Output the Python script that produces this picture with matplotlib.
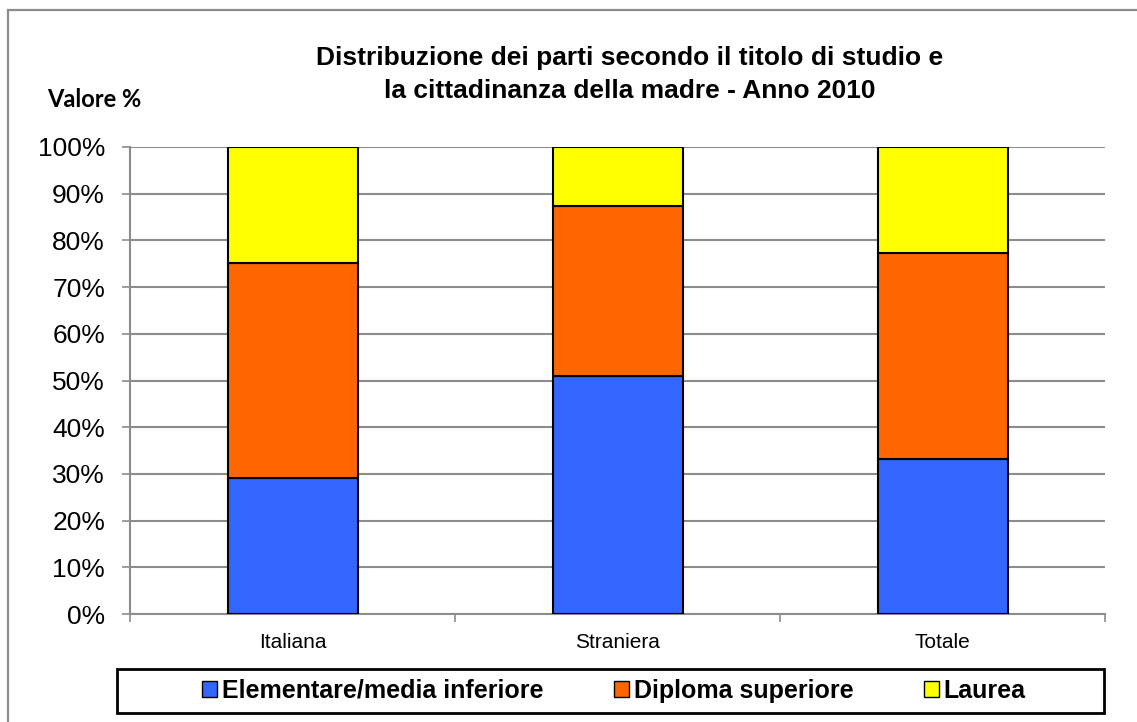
import matplotlib.pyplot as plt
from matplotlib.patches import Rectangle, Patch
import numpy as np

categories = ['Italiana', 'Straniera', 'Totale']
series_names = ['Elementare/media inferiore', 'Diploma superiore', 'Laurea']
elementare = [29.1, 51.0, 33.1]
diploma = [46.0, 36.3, 44.2]
laurea = [24.9, 12.7, 22.7]
colors = ['#3366FF', '#FF6600', '#FFFF00']

W, H = 1137, 722
fig = plt.figure(figsize=(W / 100, H / 100), dpi=100)
plt.rcParams['font.family'] = ['Liberation Sans', 'DejaVu Sans']

# outer chart frame (runs off the right and bottom edge)
fig.patches.append(Rectangle((8 / W, -0.02), 1.1, 1 - 10 / H + 0.02, transform=fig.transFigure,
                             fill=False, edgecolor='#8c8c8c', linewidth=1.6))

ax = fig.add_axes([130 / W, 1 - 614 / H, (1105 - 130) / W, (614 - 147) / H])
x = np.arange(len(categories))
bottom = np.zeros(len(categories))
for vals, c in zip([elementare, diploma, laurea], colors):
    ax.bar(x, vals, width=0.4, bottom=bottom, color=c, edgecolor='black', linewidth=1.5, zorder=3)
    bottom += np.array(vals)

ax.set_xlim(-0.5, 2.5)
ax.set_ylim(0, 100)
ax.set_yticks(np.arange(0, 101, 10))
ax.set_yticklabels(['%d%%' % v for v in range(0, 101, 10)], fontsize=19)
ax.yaxis.grid(True, color='#8c8c8c', linewidth=1.5, zorder=0)
ax.tick_params(axis='y', length=6, color='#8c8c8c', width=1.2, pad=12)

ax.set_xticks(x)
ax.set_xticklabels(categories, fontsize=15)
ax.set_xticks([-0.5, 0.5, 1.5, 2.5], minor=True)
ax.tick_params(axis='x', which='major', length=0, pad=14)
ax.tick_params(axis='x', which='minor', length=6, color='#8c8c8c', width=1.2)

for s in ['top', 'right']:
    ax.spines[s].set_visible(False)
for s in ['left', 'bottom']:
    ax.spines[s].set_color('#8c8c8c')
    ax.spines[s].set_linewidth(1.5)

fig.text(630 / W, 1 - 65 / H, 'Distribuzione dei parti secondo il titolo di studio e',
         ha='center', va='baseline', fontsize=19, fontweight='bold')
fig.text(630 / W, 1 - 98 / H, 'la cittadinanza della madre - Anno 2010',
         ha='center', va='baseline', fontsize=19, fontweight='bold')
fig.text(47 / W, 1 - 107 / H, 'Valore %', ha='left', va='baseline', fontsize=17,
         fontweight='bold', family=['Lato', 'DejaVu Sans'])

# legend box
fig.patches.append(Rectangle((117 / W, 1 - 713 / H), (1104 - 117) / W, (713 - 669) / H,
                             transform=fig.transFigure, fill=False, edgecolor='black', linewidth=2))
handles = [Patch(facecolor=c, edgecolor='black', linewidth=1) for c in colors]
fig.legend(handles, series_names, loc='center', bbox_to_anchor=(614 / W, 1 - 691 / H),
           ncol=3, frameon=False, prop={'size': 18, 'weight': 'bold'},
           handlelength=0.6, handleheight=0.6, handletextpad=0.2, columnspacing=2.8)

fig.savefig('out.png', dpi=100)
